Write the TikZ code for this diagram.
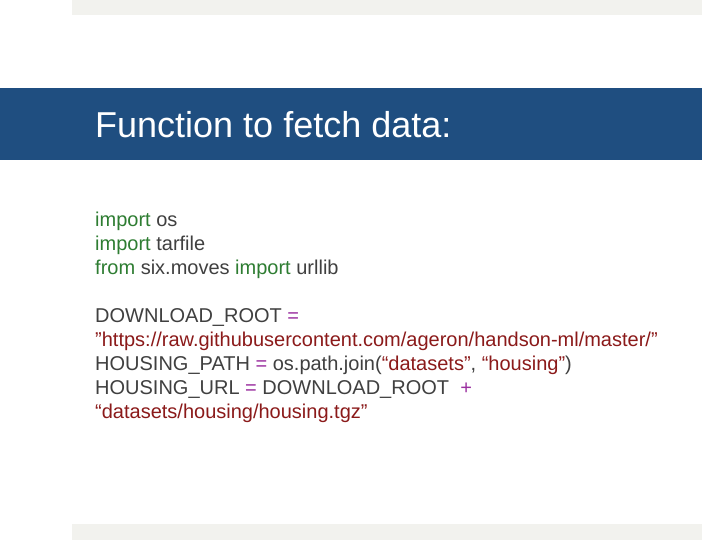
\documentclass[tikz,border=0pt]{standalone}
\usepackage{fontspec}
\setmainfont{Liberation Sans}
\definecolor{band}{HTML}{1F4E80}
\definecolor{graybar}{HTML}{F2F2EE}
\definecolor{txt}{HTML}{404040}
\definecolor{kw}{HTML}{2E7D32}
\definecolor{op}{HTML}{9B30A0}
\definecolor{str}{HTML}{8B1A1A}
\newcommand{\K}[1]{\textcolor{kw}{#1}}
\newcommand{\OP}[1]{\textcolor{op}{#1}}
\newcommand{\ST}[1]{\textcolor{str}{#1}}
\newcommand{\DQ}{\symbol{"22}}
\begin{document}
\begin{tikzpicture}[x=1pt,y=-1pt,
  code/.style={anchor=base west,inner sep=0pt,text=txt,font=\fontsize{20}{24}\selectfont}]
\useasboundingbox (0,0) rectangle (720,540);
\fill[white] (0,0) rectangle (720,540);
\fill[graybar] (72,0) rectangle (702,15);
\fill[graybar] (72,524) rectangle (702,540);
\fill[band] (0,88) rectangle (702,160);
\node[anchor=base west,inner sep=0pt,text=white,font=\fontsize{36}{40}\selectfont] (title) at (95,138) {Function to fetch data:};
\node[code] (l1) at (95,226) {\K{import} os};
\node[code] (l2) at (95,250) {\K{import} tarfile};
\node[code] (l3) at (95,274) {\K{from} six.moves \K{import} urllib};
\node[code] (l4) at (95,322) {DOWNLOAD\_ROOT \OP{=}};
\node[code] (l5) at (95,346) {\ST{\DQ https://raw.githubusercontent.com/ageron/handson-ml/master/\DQ}};
\node[code] (l6) at (95,370) {HOUSING\_PATH \OP{=} os.path.join(\ST{“datasets”}, \ST{“housing”})};
\node[code] (l7) at (95,394) {HOUSING\_URL \OP{=} DOWNLOAD\_ROOT \ \OP{+}};
\node[code] (l8) at (95,418) {\ST{“datasets/housing/housing.tgz”}};
\end{tikzpicture}
\end{document}
